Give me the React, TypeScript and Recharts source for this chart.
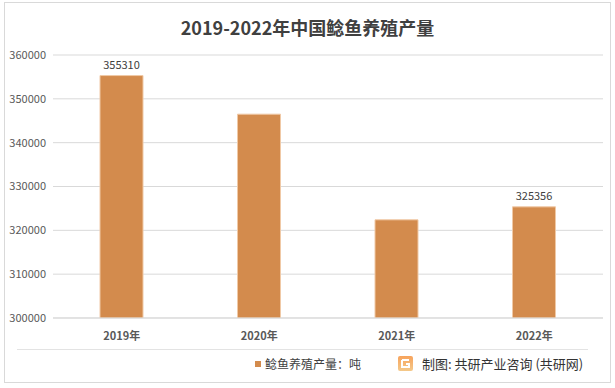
import React from "react";
import { BarChart, Bar, XAxis, YAxis, CartesianGrid, LabelList } from "recharts";

const years = ["2019年", "2020年", "2021年", "2022年"];
const output = [355310, 346500, 322400, 325356];
const showLabel = [true, false, false, true];
const yTicks = [300000, 310000, 320000, 330000, 340000, 350000, 360000];

const title = "2019-2022年中国鲶鱼养殖产量";
const seriesName = "鲶鱼养殖产量：吨";
const sourceText = "制图: 共研产业咨询 (共研网)";

const data = years.map((y, i) => ({ year: y, value: output[i], show: showLabel[i] }));

const FONT = "'Noto Sans CJK SC', 'Noto Sans', sans-serif";
const BAR = "#D38B4D";

const renderLabel = (props: any) => {
  const { x, y, width, value, index } = props;
  if (!data[index].show) return null;
  return (
    <text x={x + width / 2} y={y - 7} textAnchor="middle" fontSize={11} fill="#404040" fontFamily={FONT}>
      {value}
    </text>
  );
};

export default function App() {
  return (
    <div style={{ position: "absolute", left: 0, top: 0, width: 615, height: 388, background: "#fff", fontFamily: FONT }}>
      <div style={{ position: "absolute", left: 4, top: 2, width: 605, height: 379, border: "1px solid #d9d9d9" }} />
      <div style={{ position: "absolute", left: 0, top: 14, width: 615, textAlign: "center", fontSize: 18, fontWeight: "bold", color: "#404040" }}>
        {title}
      </div>
      <BarChart width={615} height={388} data={data} margin={{ top: 55, right: 12, left: 0, bottom: 40 }}>
        <CartesianGrid vertical={false} stroke="#d9d9d9" />
        <XAxis
          dataKey="year"
          height={30}
          axisLine={{ stroke: "#d9d9d9" }}
          tickLine={false}
          tick={{ fontSize: 11, fill: "#595959", fontFamily: FONT, fontWeight: "bold" }}
          tickMargin={8}
        />
        <YAxis
          width={53}
          domain={[300000, 360000]}
          ticks={yTicks}
          axisLine={false}
          tickLine={false}
          tickSize={0}
          tickMargin={7}
          tick={{ fontSize: 11, fill: "#595959", fontFamily: FONT }}
          allowDataOverflow
        />
        <Bar dataKey="value" fill={BAR} stroke="#f0c9a6" strokeWidth={1} barSize={43} isAnimationActive={false}>
          <LabelList dataKey="value" content={renderLabel} />
        </Bar>
      </BarChart>
      <div style={{ position: "absolute", left: 17, top: 349, width: 571, height: 1, background: "#e3e3e3" }} />
      <div style={{ position: "absolute", left: 255, top: 355, display: "flex", alignItems: "center", fontSize: 12, color: "#404040", whiteSpace: "nowrap" }}>
        <span style={{ display: "inline-block", width: 6, height: 6, background: BAR, marginRight: 4 }} />
        <span>{seriesName}</span>
      </div>
      <div style={{ position: "absolute", left: 398, top: 354, display: "flex", alignItems: "center", fontSize: 13, color: "#333", whiteSpace: "nowrap" }}>
        <svg width={15} height={15} style={{ marginRight: 9 }}>
          <defs>
            <linearGradient id="lg" x1="0" y1="0" x2="0" y2="1">
              <stop offset="0" stopColor="#f7a35c" />
              <stop offset="1" stopColor="#f4c98a" />
            </linearGradient>
          </defs>
          <rect x={0} y={0} width={15} height={15} rx={2} fill="url(#lg)" />
          <path d="M4 4 H11 M4 4 V11 H11 V8 H8" stroke="#fff" strokeWidth={2} fill="none" />
        </svg>
        <span>{sourceText}</span>
      </div>
    </div>
  );
}
